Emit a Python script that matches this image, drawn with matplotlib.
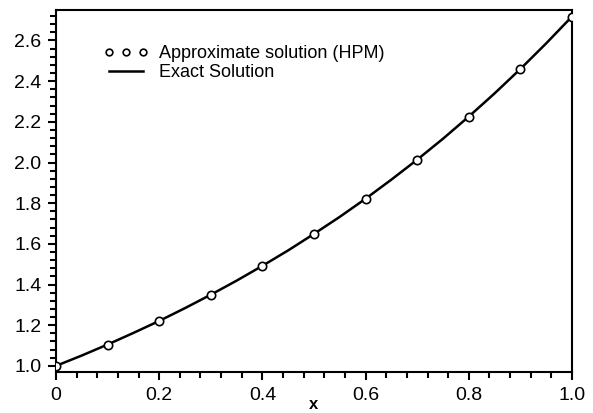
import matplotlib
matplotlib.use("Agg")
import matplotlib.pyplot as plt
from matplotlib.ticker import MultipleLocator, FixedFormatter, FixedLocator

plt.rcParams['font.family'] = ['Liberation Sans', 'DejaVu Sans']

# HPM approximate points
x_hpm = [0.0, 0.1, 0.2, 0.3, 0.4, 0.5, 0.6, 0.7, 0.8, 0.9, 1.0]
y_hpm = [1.000, 1.105, 1.221, 1.350, 1.492, 1.649, 1.822, 2.014, 2.226, 2.460, 2.718]

# exact solution curve, read at finer spacing
x_exact = [0.0, 0.05, 0.1, 0.15, 0.2, 0.25, 0.3, 0.35, 0.4, 0.45, 0.5,
           0.55, 0.6, 0.65, 0.7, 0.75, 0.8, 0.85, 0.9, 0.95, 1.0]
y_exact = [1.000, 1.051, 1.105, 1.162, 1.221, 1.284, 1.350, 1.419, 1.492, 1.568, 1.649,
           1.733, 1.822, 1.916, 2.014, 2.117, 2.226, 2.340, 2.460, 2.586, 2.718]

xticks = [0, 0.2, 0.4, 0.6, 0.8, 1.0]
xticklabels = ['0', '0.2', '0.4', '0.6', '0.8', '1.0']
yticks = [1.0, 1.2, 1.4, 1.6, 1.8, 2.0, 2.2, 2.4, 2.6]
yticklabels = ['1.0', '1.2', '1.4', '1.6', '1.8', '2.0', '2.2', '2.4', '2.6']

fig = plt.figure(figsize=(5.93, 4.13), dpi=100)
ax = fig.add_axes([0.0944, 0.0993, 0.8702, 0.8765])

ax.plot(x_hpm, y_hpm, 'o', color='black', markerfacecolor='white',
        markersize=6, markeredgewidth=1.2, linestyle='none',
        label='Approximate solution (HPM)', zorder=3)
ax.plot(x_exact, y_exact, '-', color='black', linewidth=1.8,
        label='Exact Solution', zorder=2)

ax.set_xlim(0, 1.0)
ax.set_ylim(0.97, 2.75)

ax.xaxis.set_major_locator(FixedLocator(xticks))
ax.xaxis.set_major_formatter(FixedFormatter(xticklabels))
ax.yaxis.set_major_locator(FixedLocator(yticks))
ax.yaxis.set_major_formatter(FixedFormatter(yticklabels))
ax.xaxis.set_minor_locator(MultipleLocator(0.04))
ax.yaxis.set_minor_locator(MultipleLocator(0.04))

ax.tick_params(which='both', direction='out', width=1.5, labelsize=14)
ax.tick_params(which='major', length=6, pad=4.5)
ax.tick_params(which='minor', length=4)
for s in ax.spines.values():
    s.set_linewidth(1.5)

ax.set_xlabel('x', fontsize=12, fontweight='bold')
ax.xaxis.set_label_coords(0.5, -0.068)

ax.legend(loc='upper left', bbox_to_anchor=(0.06, 0.948), frameon=False,
          numpoints=3, fontsize=13, handlelength=2.5, handletextpad=0.6,
          labelspacing=0.1, markerscale=0.8)

fig.savefig('out.png', dpi=100)
